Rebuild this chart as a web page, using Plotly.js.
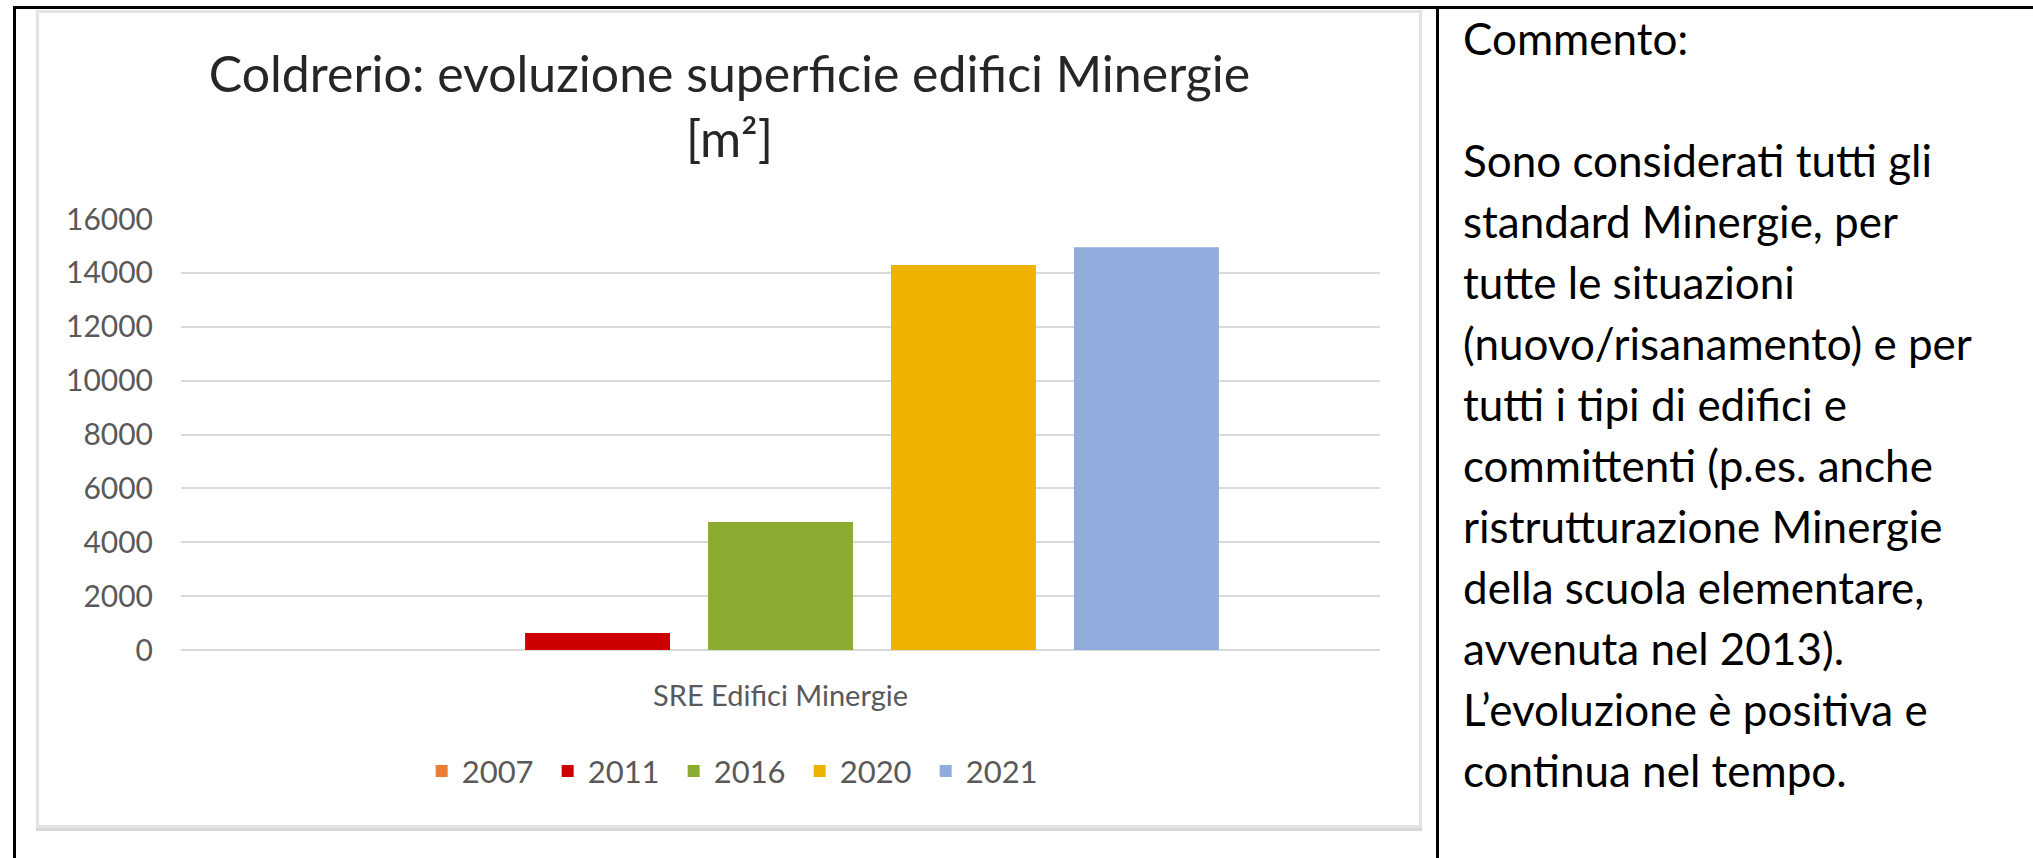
<!DOCTYPE html>
<html>
<head>
<meta charset="utf-8">
<script src="https://cdn.plot.ly/plotly-3.0.1.min.js"></script>
<style>
  html, body { margin: 0; padding: 0; background: #fff; }
  body { width: 2033px; height: 858px; position: relative; overflow: hidden; font-family: Lato, 'Noto Sans', sans-serif; }
  .rule { position: absolute; background: #000; }
  #box { position: absolute; left: 36px; top: 10px; width: 1386px; height: 818px;
         box-sizing: border-box; border: 3px solid #e3e3e3; box-shadow: 0 3px 0 #d6d6d6; }
  #chart { position: absolute; left: 0; top: 0; width: 1436px; height: 858px; }
  #note { position: absolute; left: 1463px; top: 8px; font-size: 44px; line-height: 61px;
          color: #000; white-space: nowrap; }
</style>
</head>
<body>
<div class="rule" style="left:13px;top:6px;width:2020px;height:3px"></div>
<div class="rule" style="left:13px;top:6px;width:3px;height:852px"></div>
<div class="rule" style="left:1436px;top:6px;width:3px;height:852px"></div>
<div id="box"></div>
<div id="chart"></div>
<div id="note">Commento:<br><br>Sono considerati tutti gli<br>standard Minergie, per<br>tutte le situazioni<br>(nuovo/risanamento) e per<br>tutti i tipi di edifici e<br>committenti (p.es. anche<br>ristrutturazione Minergie<br>della scuola elementare,<br>avvenuta nel 2013).<br>L’evoluzione è positiva e<br>continua nel tempo.</div>
<script>
// one category, one bar per survey year
const category = ['SRE Edifici Minergie'];
const years = ['2007', '2011', '2016', '2020', '2021'];
const surface = [0, 630, 4750, 14290, 14950];   // m²
const colors = ['#ED7D31', '#CC0000', '#8CAB31', '#F0B200', '#8FACDC'];

const GRID = '#d9d9d9';
const LABEL = '#595959';

const traces = years.map((yr, i) => ({
  type: 'bar', name: yr, x: category, y: [surface[i]],
  marker: { color: colors[i] }, hoverinfo: 'skip',
}));

const layout = {
  width: 1436, height: 858,
  paper_bgcolor: 'rgba(0,0,0,0)', plot_bgcolor: 'rgba(0,0,0,0)',
  font: { family: 'Lato, sans-serif', size: 30, color: LABEL },
  margin: { l: 181, r: 56, t: 219, b: 208, pad: 0 },
  title: {
    text: 'Coldrerio: evoluzione superficie edifici Minergie<br>[m²]',
    font: { family: 'Lato, sans-serif', size: 50, color: '#262626' },
    xref: 'container', x: 0.508, xanchor: 'center',
    yref: 'container', y: 0.893, yanchor: 'top',
  },
  barmode: 'group', bargap: 0.237, bargroupgap: 0.208,
  xaxis: {
    range: [-0.5, 0.5], showgrid: false, zeroline: false, showline: false,
    ticks: '', ticklabelstandoff: 26, tickfont: { size: 29, color: LABEL },
  },
  yaxis: {
    range: [0, 16000], dtick: 2000, tickformat: 'd',
    showgrid: true, gridcolor: GRID, gridwidth: 2,
    zeroline: true, zerolinecolor: GRID, zerolinewidth: 2, showline: false,
    ticks: '', ticklabelstandoff: 27, tickfont: { size: 30, color: LABEL },
  },
  legend: {
    orientation: 'h', xref: 'container', x: 0.513, xanchor: 'center',
    yref: 'container', y: 0.101, yanchor: 'middle',
    font: { size: 31, color: LABEL }, entrywidth: 81, entrywidthmode: 'pixels',
    bgcolor: 'rgba(0,0,0,0)',
  },
  showlegend: true,
};

Plotly.newPlot('chart', traces, layout, { displayModeBar: false, staticPlot: true });
</script>
</body>
</html>
